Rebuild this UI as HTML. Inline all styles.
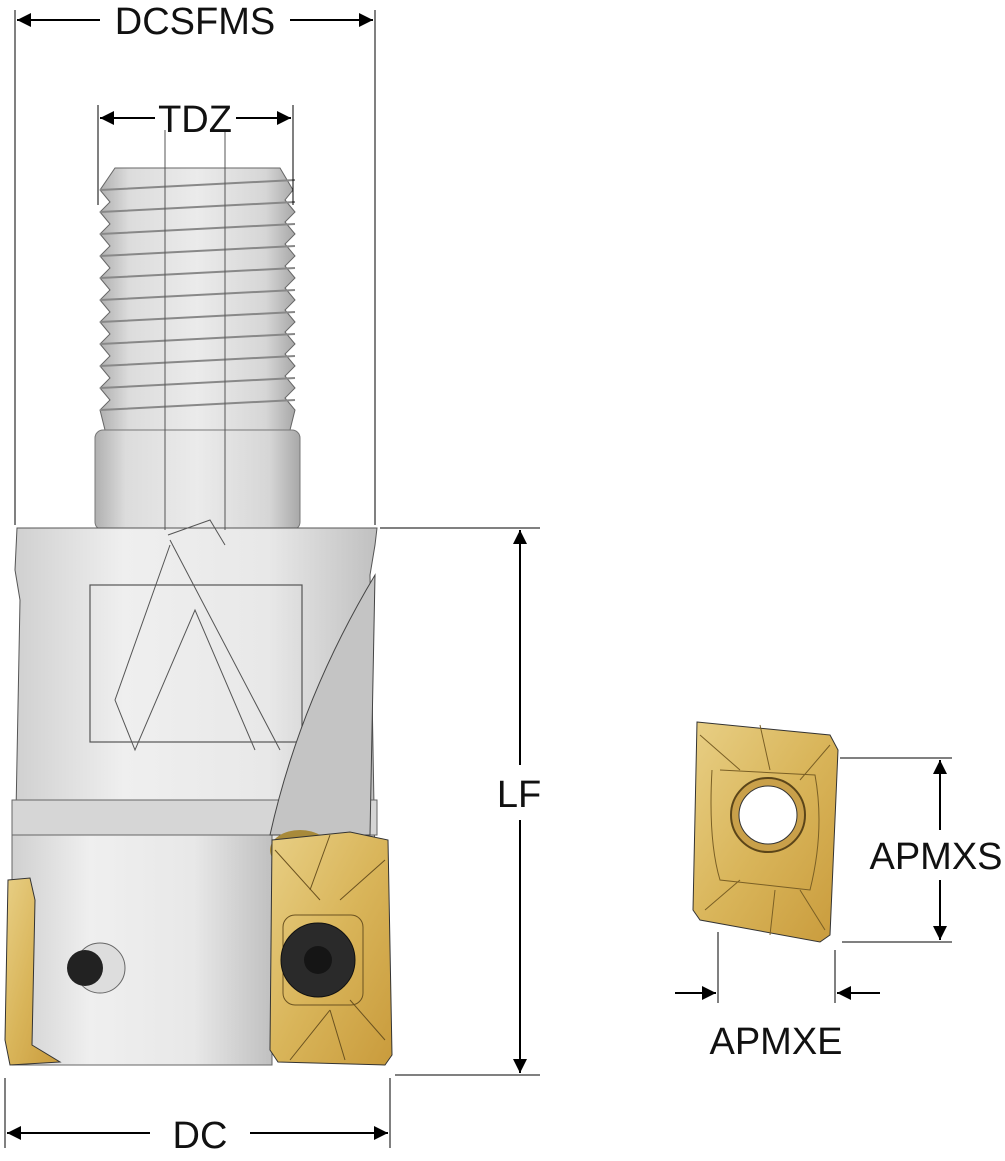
<!DOCTYPE html>
<html><head><meta charset="utf-8"><style>
html,body{margin:0;padding:0;background:#fff}
svg{display:block}
text{font-family:"Liberation Sans",sans-serif;fill:#111}
</style></head><body>
<svg width="1005" height="1161" viewBox="0 0 1005 1161" xmlns="http://www.w3.org/2000/svg">
<defs>
<marker id="a" viewBox="0 0 10 10" refX="10" refY="5" markerWidth="14" markerHeight="14" markerUnits="userSpaceOnUse" orient="auto-start-reverse"><path d="M0,0 L10,5 L0,10 z" fill="#000"/></marker>
<linearGradient id="g1" x1="0" x2="1"><stop offset="0" stop-color="#b0b0b0"/><stop offset="0.15" stop-color="#dcdcdc"/><stop offset="0.5" stop-color="#ebebeb"/><stop offset="0.85" stop-color="#d6d6d6"/><stop offset="1" stop-color="#a8a8a8"/></linearGradient>
<linearGradient id="g2" x1="0" x2="1"><stop offset="0" stop-color="#d0d0d0"/><stop offset="0.3" stop-color="#efefef"/><stop offset="0.7" stop-color="#e8e8e8"/><stop offset="1" stop-color="#c0c0c0"/></linearGradient>
<linearGradient id="gold" x1="0" x2="1" y1="0" y2="1"><stop offset="0" stop-color="#e8cf85"/><stop offset="0.5" stop-color="#d9b55a"/><stop offset="1" stop-color="#c99b3c"/></linearGradient>
</defs>

<!-- thread -->
<path d="M115 168 L280 168 L293 190 L285 200 L295 212 L285 222 L295 234 L285 244 L295 256 L285 266 L295 278 L285 288 L295 300 L285 310 L295 322 L285 332 L295 344 L285 354 L295 366 L285 376 L295 388 L285 398 L295 410 L290 430 L105 430 L100 410 L110 400 L100 388 L110 378 L100 366 L110 356 L100 344 L110 334 L100 322 L110 312 L100 300 L110 290 L100 278 L110 268 L100 256 L110 246 L100 234 L110 224 L100 212 L110 202 L100 190 Z" fill="url(#g1)" stroke="#666"/>
<g stroke="#888" stroke-width="2" fill="none">
<path d="M100 190 L295 180 M100 212 L295 202 M100 234 L295 224 M100 256 L295 246 M100 278 L295 268 M100 300 L295 290 M100 322 L295 312 M100 344 L295 334 M100 366 L295 356 M100 388 L295 378 M100 410 L295 400"/>
</g>
<!-- neck -->
<rect x="95" y="430" width="205" height="100" rx="8" fill="url(#g1)" stroke="#777"/>
<!-- body -->
<path d="M17 528 L377 528 L375 545 L370 575 L375 865 L15 865 L20 600 L15 570 Z" fill="url(#g2)" stroke="#555"/>
<rect x="12" y="800" width="365" height="35" fill="#d6d6d6" stroke="#666"/>
<rect x="12" y="835" width="260" height="230" fill="url(#g2)" stroke="#666"/>
<rect x="90" y="585" width="212" height="157" fill="none" stroke="#555" stroke-width="1.2"/>
<g stroke="#555" fill="none" stroke-width="1">
<path d="M168 535 L210 520 L225 545 M170 540 L280 750 M170 545 L115 700 L135 750 L195 610 L255 750"/>
<line x1="165" y1="130" x2="165" y2="530"/><line x1="225" y1="130" x2="225" y2="530"/>
</g>
<path d="M375 575 Q300 700 270 835 L370 835 Z" fill="#c4c4c4" stroke="#444"/>
<ellipse cx="300" cy="850" rx="30" ry="20" fill="#a88a3a"/>
<!-- left insert -->
<path d="M8 880 L30 878 L35 900 L32 1045 L60 1062 L10 1065 L5 1040 Z" fill="url(#gold)" stroke="#333"/>
<!-- pin -->
<circle cx="100" cy="968" r="25" fill="#ddd" stroke="#666"/>
<circle cx="85" cy="968" r="18" fill="#222"/>
<!-- front insert -->
<path d="M272 840 L350 832 L388 840 L392 1055 L385 1065 L278 1062 L270 1050 Z" fill="url(#gold)" stroke="#333"/>
<g stroke="#6b5220" stroke-width="1" fill="none"><path d="M275 850 L320 900 M330 835 L310 890 M385 860 L340 900 M290 1060 L330 1010 M345 1060 L330 1010 M385 1040 L350 1000"/>
<rect x="283" y="915" width="80" height="90" rx="12"/></g>
<circle cx="318" cy="960" r="37" fill="#2a2a2a" stroke="#111"/>
<circle cx="318" cy="960" r="14" fill="#151515"/>

<!-- right insert -->
<path d="M697 722 L830 735 L838 750 L830 935 L820 942 L700 920 L693 910 Z" fill="url(#gold)" stroke="#333"/>
<g stroke="#7a5f25" stroke-width="1" fill="none"><path d="M712 770 Q708 840 720 880 L810 890 Q825 830 815 775 L720 770"/><path d="M700 735 L740 770 M760 725 L770 770 M830 745 L800 780 M705 910 L740 880 M770 935 L775 890 M825 930 L800 890"/></g>
<circle cx="768" cy="815" r="37" fill="#c9a04a" stroke="#5b4519" stroke-width="2"/>
<circle cx="768" cy="815" r="29" fill="#fff" stroke="#333"/>

<!-- dimension lines -->
<g stroke="#000" stroke-width="2" fill="none">
<line x1="15" y1="10" x2="15" y2="525" stroke-width="1"/>
<line x1="375" y1="10" x2="375" y2="525" stroke-width="1"/>
<line x1="100" y1="20" x2="17" y2="20" marker-end="url(#a)"/>
<line x1="290" y1="20" x2="373" y2="20" marker-end="url(#a)"/>
<line x1="98" y1="105" x2="98" y2="205" stroke-width="1"/>
<line x1="293" y1="105" x2="293" y2="205" stroke-width="1"/>
<line x1="155" y1="118" x2="100" y2="118" marker-end="url(#a)"/>
<line x1="236" y1="118" x2="291" y2="118" marker-end="url(#a)"/>
<line x1="380" y1="528" x2="540" y2="528" stroke-width="1"/>
<line x1="395" y1="1075" x2="540" y2="1075" stroke-width="1"/>
<line x1="520" y1="765" x2="520" y2="530" marker-end="url(#a)"/>
<line x1="520" y1="820" x2="520" y2="1073" marker-end="url(#a)"/>
<line x1="5" y1="1078" x2="5" y2="1148" stroke-width="1"/>
<line x1="390" y1="1078" x2="390" y2="1148" stroke-width="1"/>
<line x1="150" y1="1133" x2="7" y2="1133" marker-end="url(#a)"/>
<line x1="250" y1="1133" x2="388" y2="1133" marker-end="url(#a)"/>
<line x1="840" y1="758" x2="952" y2="758" stroke-width="1"/>
<line x1="842" y1="942" x2="952" y2="942" stroke-width="1"/>
<line x1="940" y1="830" x2="940" y2="760" marker-end="url(#a)"/>
<line x1="940" y1="880" x2="940" y2="940" marker-end="url(#a)"/>
<line x1="718" y1="932" x2="718" y2="1003" stroke-width="1"/>
<line x1="835" y1="950" x2="835" y2="1003" stroke-width="1"/>
<line x1="675" y1="993" x2="716" y2="993" marker-end="url(#a)"/>
<line x1="880" y1="993" x2="837" y2="993" marker-end="url(#a)"/>
</g>
<text x="195" y="34" font-size="38" text-anchor="middle">DCSFMS</text>
<text x="195" y="132" font-size="38" text-anchor="middle">TDZ</text>
<text x="519" y="807" font-size="38" text-anchor="middle">LF</text>
<text x="200" y="1148" font-size="38" text-anchor="middle">DC</text>
<text x="936" y="869" font-size="38" text-anchor="middle">APMXS</text>
<text x="776" y="1054" font-size="38" text-anchor="middle">APMXE</text>
</svg>
</body></html>
